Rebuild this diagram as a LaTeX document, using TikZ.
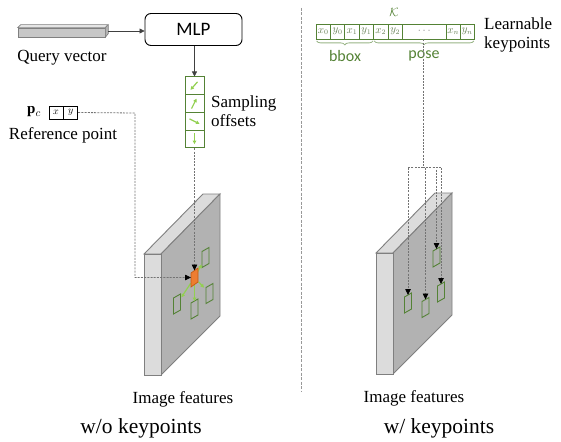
\documentclass[tikz,border=0pt]{standalone}
\usepackage{fontspec}
\setmainfont{Liberation Serif}
\newfontfamily\calibri{Carlito}
\usetikzlibrary{arrows.meta,calc,positioning,decorations.pathreplacing}

\definecolor{leafgreen}{HTML}{548235}
\definecolor{limegreen}{HTML}{92D050}
\definecolor{patchorange}{HTML}{ED7D31}
\definecolor{patchedge}{HTML}{C55A11}
\definecolor{slabfront}{HTML}{DCDCDC}
\definecolor{slabside}{HTML}{B2B2B2}
\definecolor{slabedge}{HTML}{7F7F7F}

% sampled location on the feature map (sheared like the slab)
\newcommand{\featpatch}[1]{\draw[leafgreen, line width=0.9pt] ($(#1)+(-3.5,10)$) -- ++(0,-16) -- ++(7,-4) -- ++(0,16) -- cycle;}

\begin{document}
\begin{tikzpicture}[x=1pt,y=-1pt,>={Triangle[length=5pt,width=5pt]}]
    \tikzstyle{lbl}=[font=\fontsize{17}{19.5}\selectfont, inner sep=0pt, align=left]
    \tikzstyle{link}=[draw=black!75, line width=0.7pt, ->]
    \tikzstyle{dashlink}=[draw=black!55, dash pattern=on 2pt off 1.2pt, line width=0.8pt, ->, >={Triangle[length=6pt,width=5.5pt,color=black]}]
    \tikzstyle{offcell}=[draw=leafgreen, line width=1pt, fill=white, minimum width=19pt, minimum height=17.75pt, inner sep=0pt]
    \tikzstyle{kpcell}=[draw=leafgreen, line width=0.8pt, fill=white, minimum width=14.4pt, minimum height=15pt, inner sep=0pt, text=leafgreen!55!gray, font=\fontsize{10.5}{10.5}\selectfont]
    \tikzstyle{refcell}=[draw, line width=0.8pt, minimum width=14pt, minimum height=13pt, inner sep=0pt, font=\fontsize{10}{10}\selectfont]
    \tikzstyle{limearrow}=[draw=limegreen, line width=1.2pt, ->, >={Triangle[length=3.5pt,width=3.5pt]}]

    \useasboundingbox (0,0) rectangle (561,441);

    % feature maps
    \foreach \ox/\oy in {0/0,232/-1} {
    \begin{scope}[shift={(\ox,\oy)}, draw=slabedge, line width=0.9pt]
        \filldraw[fill=slabfront] (144,254) -- (203,194) -- (220,194) -- (161,254) -- cycle;
        \filldraw[fill=slabside] (161,254) -- (220,194) -- (220,316) -- (161,375) -- cycle;
        \filldraw[fill=slabfront] (144,254) rectangle (161,375);
    \end{scope}
    }

    % ---- w/o keypoints ----
    \node[draw, line width=0.9pt, rounded corners=6pt, minimum width=97pt, minimum height=32pt,
          font=\calibri\fontsize{19}{19}\selectfont] (mlp) at (193.5,29.5) {MLP};

    \node[draw=gray, fill=black!22, line width=0.6pt, minimum width=87pt, minimum height=9pt, inner sep=0pt] (query) at (61.5,32.5) {};
    \filldraw[draw=gray, fill=black!10, line width=0.6pt] (query.north west) -- ++(3,-3) -- ++(87,0) -- (query.north east) -- cycle;
    \filldraw[draw=gray, fill=black!30, line width=0.6pt] (query.north east) -- ++(3,-3) -- ++(0,9) -- (query.south east) -- cycle;
    \coordinate (qend) at ($(query.east)+(3,-1.5)$);
    \draw[link] (qend) -- (qend -| mlp.west);
    \node[lbl] (qlabel) at (62,57.5) {Query vector};

    \foreach \i in {1,...,4}
    \node[offcell] (off-\i) at (194.5,68.1+17.75*\i) {};
    \draw[limearrow] ($(off-1)+(3,-4)$) -- ++(-7,8);
    \draw[limearrow] ($(off-2)+(-3,5)$) -- ++(5,-10);
    \draw[limearrow] ($(off-3)+(-5,-2.5)$) -- ++(10,5);
    \draw[limearrow] ($(off-4)+(0,-6)$) -- ++(0,11);
    \draw[link] (mlp.south -| off-1.north) -- (off-1.north);
    \node[lbl, anchor=west] (offlabel) at (211,111) {Sampling\\offsets};

    \node[refcell] (refx) at (56,112.5) {$x$};
    \node[refcell, right=0pt of refx] (refy) {$y$};
    \node[font=\fontsize{15}{15}\selectfont, inner sep=0pt] (pc) at (34,112) {$\mathbf{p}_c$};
    \node[lbl] (reflabel) at (63,135.5) {Reference point};

    % sampling around the reference point
    \coordinate (o) at (194.5,277.5);
    \coordinate (g1) at (205.5,257.5);
    \coordinate (g2) at (209.5,293.5);
    \coordinate (g3) at (177,304);
    \coordinate (g4) at (194.5,309);
    \foreach \g in {g1,g2,g3,g4} {\featpatch{\g}}
    \foreach \g/\s in {g1/6,g2/6,g3/7,g4/7}
    \draw[limearrow, shorten <=\s pt, shorten >=8pt] (o) -- (\g);
    \filldraw[draw=patchedge, fill=patchorange, line width=0.7pt] ($(o)+(-3.5,9.5)$) -- ++(0,-14) -- ++(7,-5) -- ++(0,14) -- cycle;

    \coordinate (refturn) at (135,113);
    \draw[dashlink, shorten >=3.5pt] (refy.east) -- (refturn) |- (o);
    \draw[dashlink, shorten >=7pt] (off-4.south) -- (o);

    \node[lbl] (feat-l) at (183,399.5) {Image features};
    \node[font=\fontsize{21.5}{22}\selectfont] (title-l) at (141,428) {w/o keypoints};

    \draw[draw=black!40, dash pattern=on 3pt off 1.5pt, line width=0.8pt] (301,8) -- (301,392);

    % ---- w/ keypoints ----
    \foreach \i/\t in {1/x_0,2/y_0,3/x_1,4/y_1,5/x_2,6/y_2}
    \node[kpcell] (kp-\i) at (308.8+14.4*\i,31.5) {$\t$};
    \node[kpcell, minimum width=43.6pt, text=gray] (kp-7) at (424.2,31.5) {$\cdots$};
    \node[kpcell] (kp-8) at (453.2,31.5) {$x_n$};
    \node[kpcell] (kp-9) at (467.2,31.5) {$y_n$};
    \node[text=leafgreen, font=\fontsize{13}{13}\selectfont] (kset) at (394,12) {$\mathcal{K}$};
    \node[lbl, anchor=west] (kplabel) at (484,35) {Learnable\\keypoints};

    \draw[decorate, decoration={brace, mirror, amplitude=4pt}, draw=leafgreen!60, line width=0.8pt]
        ($(kp-1.south west)+(1,1.5)$) -- ($(kp-4.south east)+(-1,1.5)$);
    \draw[decorate, decoration={brace, mirror, amplitude=4pt}, draw=leafgreen!60, line width=0.8pt]
        ($(kp-5.south west)+(1,1.5)$) -- ($(kp-9.south east)+(-1,1.5)$);
    \node[text=leafgreen, font=\calibri\fontsize{16}{16}\selectfont] (bbox) at (345,56) {bbox};
    \node[text=leafgreen, font=\calibri\fontsize{16}{16}\selectfont] (pose) at (424,56) {pose};

    \coordinate (h1) at (436.5,257);
    \coordinate (h2) at (441,292);
    \coordinate (h3) at (408,303);
    \coordinate (h4) at (425.5,307.5);
    \foreach \h in {h1,h2,h3,h4} {\featpatch{\h}}

    \coordinate (split) at (423,167);
    \draw[dashlink, -] (kp-7.south -| split) -- (split);
    \foreach \h in {h1,h2,h3,h4}
    \draw[dashlink, shorten >=8pt] (split) -| (\h);

    \node[lbl] (feat-r) at (414,398) {Image features};
    \node[font=\fontsize{21.5}{22}\selectfont] (title-r) at (439,428) {w/ keypoints};
\end{tikzpicture}
\end{document}
